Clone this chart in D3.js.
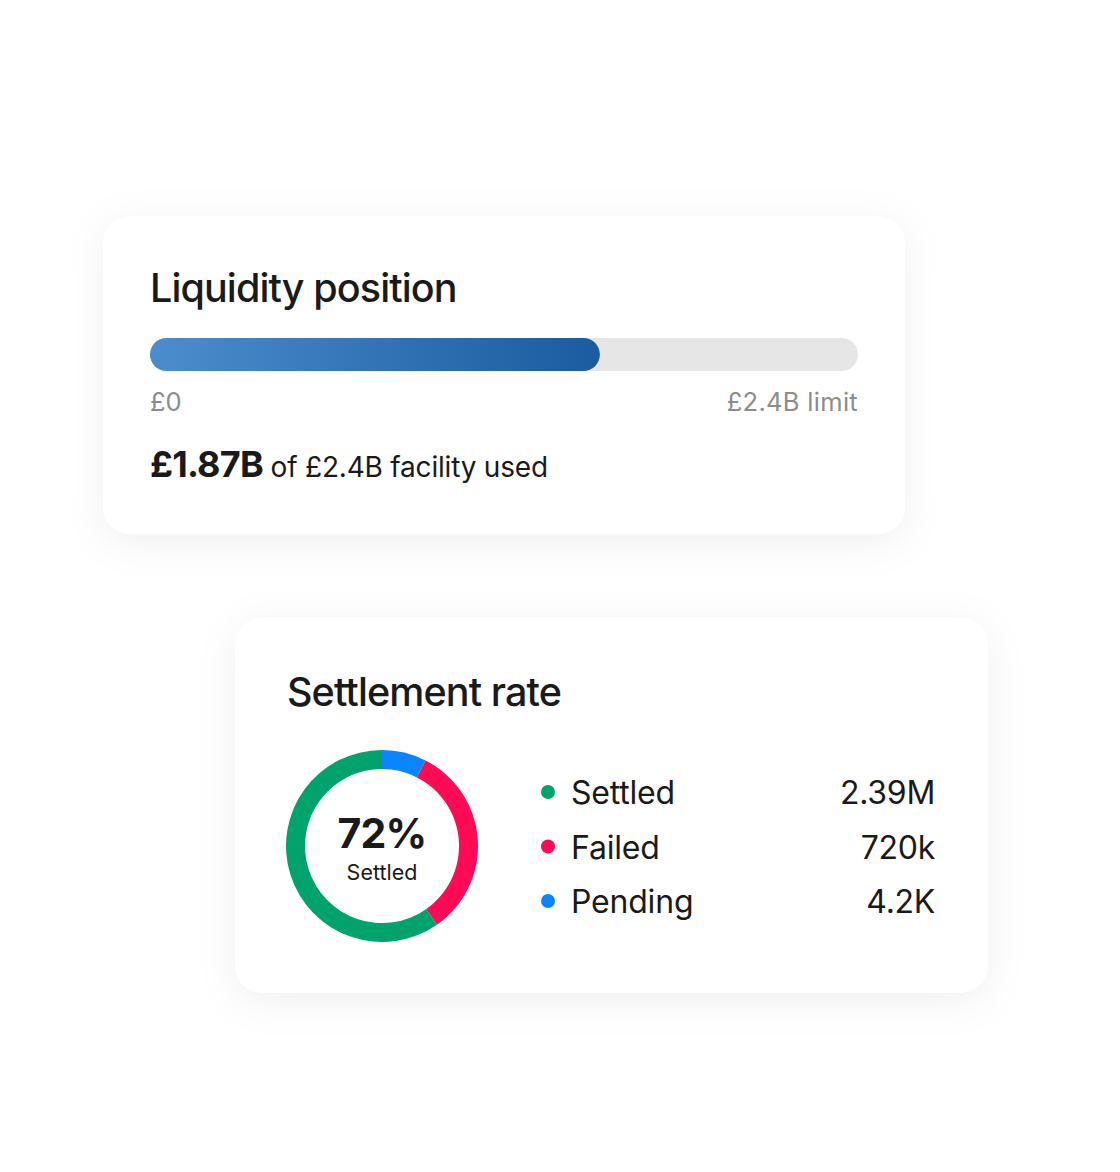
<!DOCTYPE html>
<html>
<head>
<meta charset="utf-8">
<script src="https://d3js.org/d3.v7.min.js"></script>
<style>
  body { margin: 0; background: #fff; }
  svg text { font-family: Inter, "Open Sans", sans-serif; }
</style>
</head>
<body>
<svg id="chart" width="1120" height="1172"></svg>
<script>
// liquidity card
const liqTitle = 'Liquidity position';
const liqLimit = 2.4;          // £B
const liqUsed = 1.87;          // £B, as stated in the text
const liqFillShown = 1.525;    // £B, where the drawn bar ends in the picture
const liqTicks = ['£0', '£2.4B limit'];

// settlement card
const setTitle = 'Settlement rate';
const setCenter = '72%';
const setCenterSub = 'Settled';
const setLabels = ['Settled', 'Failed', 'Pending'];
const setValues = ['2.39M', '720k', '4.2K'];
const setColors = ['#00a36c', '#ff0a54', '#0a84ff'];
// ring shares as drawn, clockwise from 12 o'clock: Pending, Failed, Settled
const ringOrder = ['Pending', 'Failed', 'Settled'];
const ringShares = [7.5, 32.8, 59.7];

const svg = d3.select('#chart');
const defs = svg.append('defs');

const shadow = defs.append('filter').attr('id', 'shadow')
    .attr('x', '-20%').attr('y', '-20%').attr('width', '140%').attr('height', '150%');
shadow.append('feDropShadow').attr('dx', 0).attr('dy', 8).attr('stdDeviation', 20)
    .attr('flood-color', '#000').attr('flood-opacity', 0.06);

const grad = defs.append('linearGradient').attr('id', 'barGrad')
    .attr('x1', '0%').attr('x2', '100%').attr('y1', '0%').attr('y2', '0%');
grad.append('stop').attr('offset', '0%').attr('stop-color', '#4b8dcd');
grad.append('stop').attr('offset', '100%').attr('stop-color', '#1b5b9f');

// ---- card 1
svg.append('rect').attr('x', 103).attr('y', 216).attr('width', 802).attr('height', 318)
    .attr('rx', 28).attr('fill', '#fff').attr('filter', 'url(#shadow)');

svg.append('text').attr('x', 150).attr('y', 302).text(liqTitle)
    .attr('font-size', 39.5).attr('font-weight', 500).attr('fill', '#1a1a1a')
    .attr('letter-spacing', -0.9);

const x = d3.scaleLinear().domain([0, liqLimit]).range([150, 858]);
const barY = 338, barH = 33;

svg.append('rect').attr('x', x(0)).attr('y', barY)
    .attr('width', x(liqLimit) - x(0)).attr('height', barH)
    .attr('rx', barH / 2).attr('fill', '#e6e6e6');
svg.append('rect').attr('x', x(0)).attr('y', barY)
    .attr('width', x(liqFillShown) - x(0)).attr('height', barH)
    .attr('rx', barH / 2).attr('fill', 'url(#barGrad)');

svg.append('text').attr('x', x(0)).attr('y', 411).text(liqTicks[0])
    .attr('font-size', 25.5).attr('fill', '#8c8c8c');
svg.append('text').attr('x', x(liqLimit)).attr('y', 411).text(liqTicks[1])
    .attr('text-anchor', 'end').attr('font-size', 25.5).attr('fill', '#8c8c8c')
    .attr('letter-spacing', 0.3);

const used = svg.append('text').attr('x', 150).attr('y', 477).attr('fill', '#1a1a1a');
used.append('tspan').text('£' + liqUsed + 'B')
    .attr('font-size', 36).attr('font-weight', 700).attr('letter-spacing', -0.8);
used.append('tspan').text(' of £' + liqLimit + 'B facility used')
    .attr('font-size', 28).attr('letter-spacing', -0.2);

// ---- card 2
svg.append('rect').attr('x', 235).attr('y', 617).attr('width', 753).attr('height', 376)
    .attr('rx', 28).attr('fill', '#fff').attr('filter', 'url(#shadow)');

svg.append('text').attr('x', 287).attr('y', 706).text(setTitle)
    .attr('font-size', 39.5).attr('font-weight', 500).attr('fill', '#1a1a1a')
    .attr('letter-spacing', -0.9);

const color = d3.scaleOrdinal().domain(setLabels).range(setColors);
const pie = d3.pie().sort(null).value(d => d.share);
const arc = d3.arc().innerRadius(77).outerRadius(96);
const ringData = ringOrder.map((k, i) => ({key: k, share: ringShares[i]}));

const donut = svg.append('g').attr('transform', 'translate(382,846)');
donut.selectAll('path').data(pie(ringData)).join('path')
    .attr('d', arc).attr('fill', d => color(d.data.key));

donut.append('text').attr('y', 2).text(setCenter).attr('text-anchor', 'middle')
    .attr('font-size', 41).attr('font-weight', 700).attr('fill', '#1a1a1a')
    .attr('letter-spacing', -0.8);
donut.append('text').attr('y', 34).text(setCenterSub).attr('text-anchor', 'middle')
    .attr('font-size', 21.5).attr('fill', '#1a1a1a');

const rowY = d3.scalePoint().domain(setLabels).range([792, 901]);
const rows = svg.append('g').selectAll('g').data(setLabels).join('g')
    .attr('transform', d => `translate(0,${rowY(d)})`);
rows.append('circle').attr('cx', 548).attr('r', 7).attr('fill', d => color(d));
rows.append('text').attr('x', 571).attr('y', 12).text(d => d)
    .attr('font-size', 32).attr('fill', '#1a1a1a').attr('letter-spacing', -0.2);
rows.append('text').attr('x', 935).attr('y', 12).text((d, i) => setValues[i])
    .attr('text-anchor', 'end').attr('font-size', 32).attr('fill', '#1a1a1a')
    .attr('letter-spacing', -0.3);
</script>
</body>
</html>
